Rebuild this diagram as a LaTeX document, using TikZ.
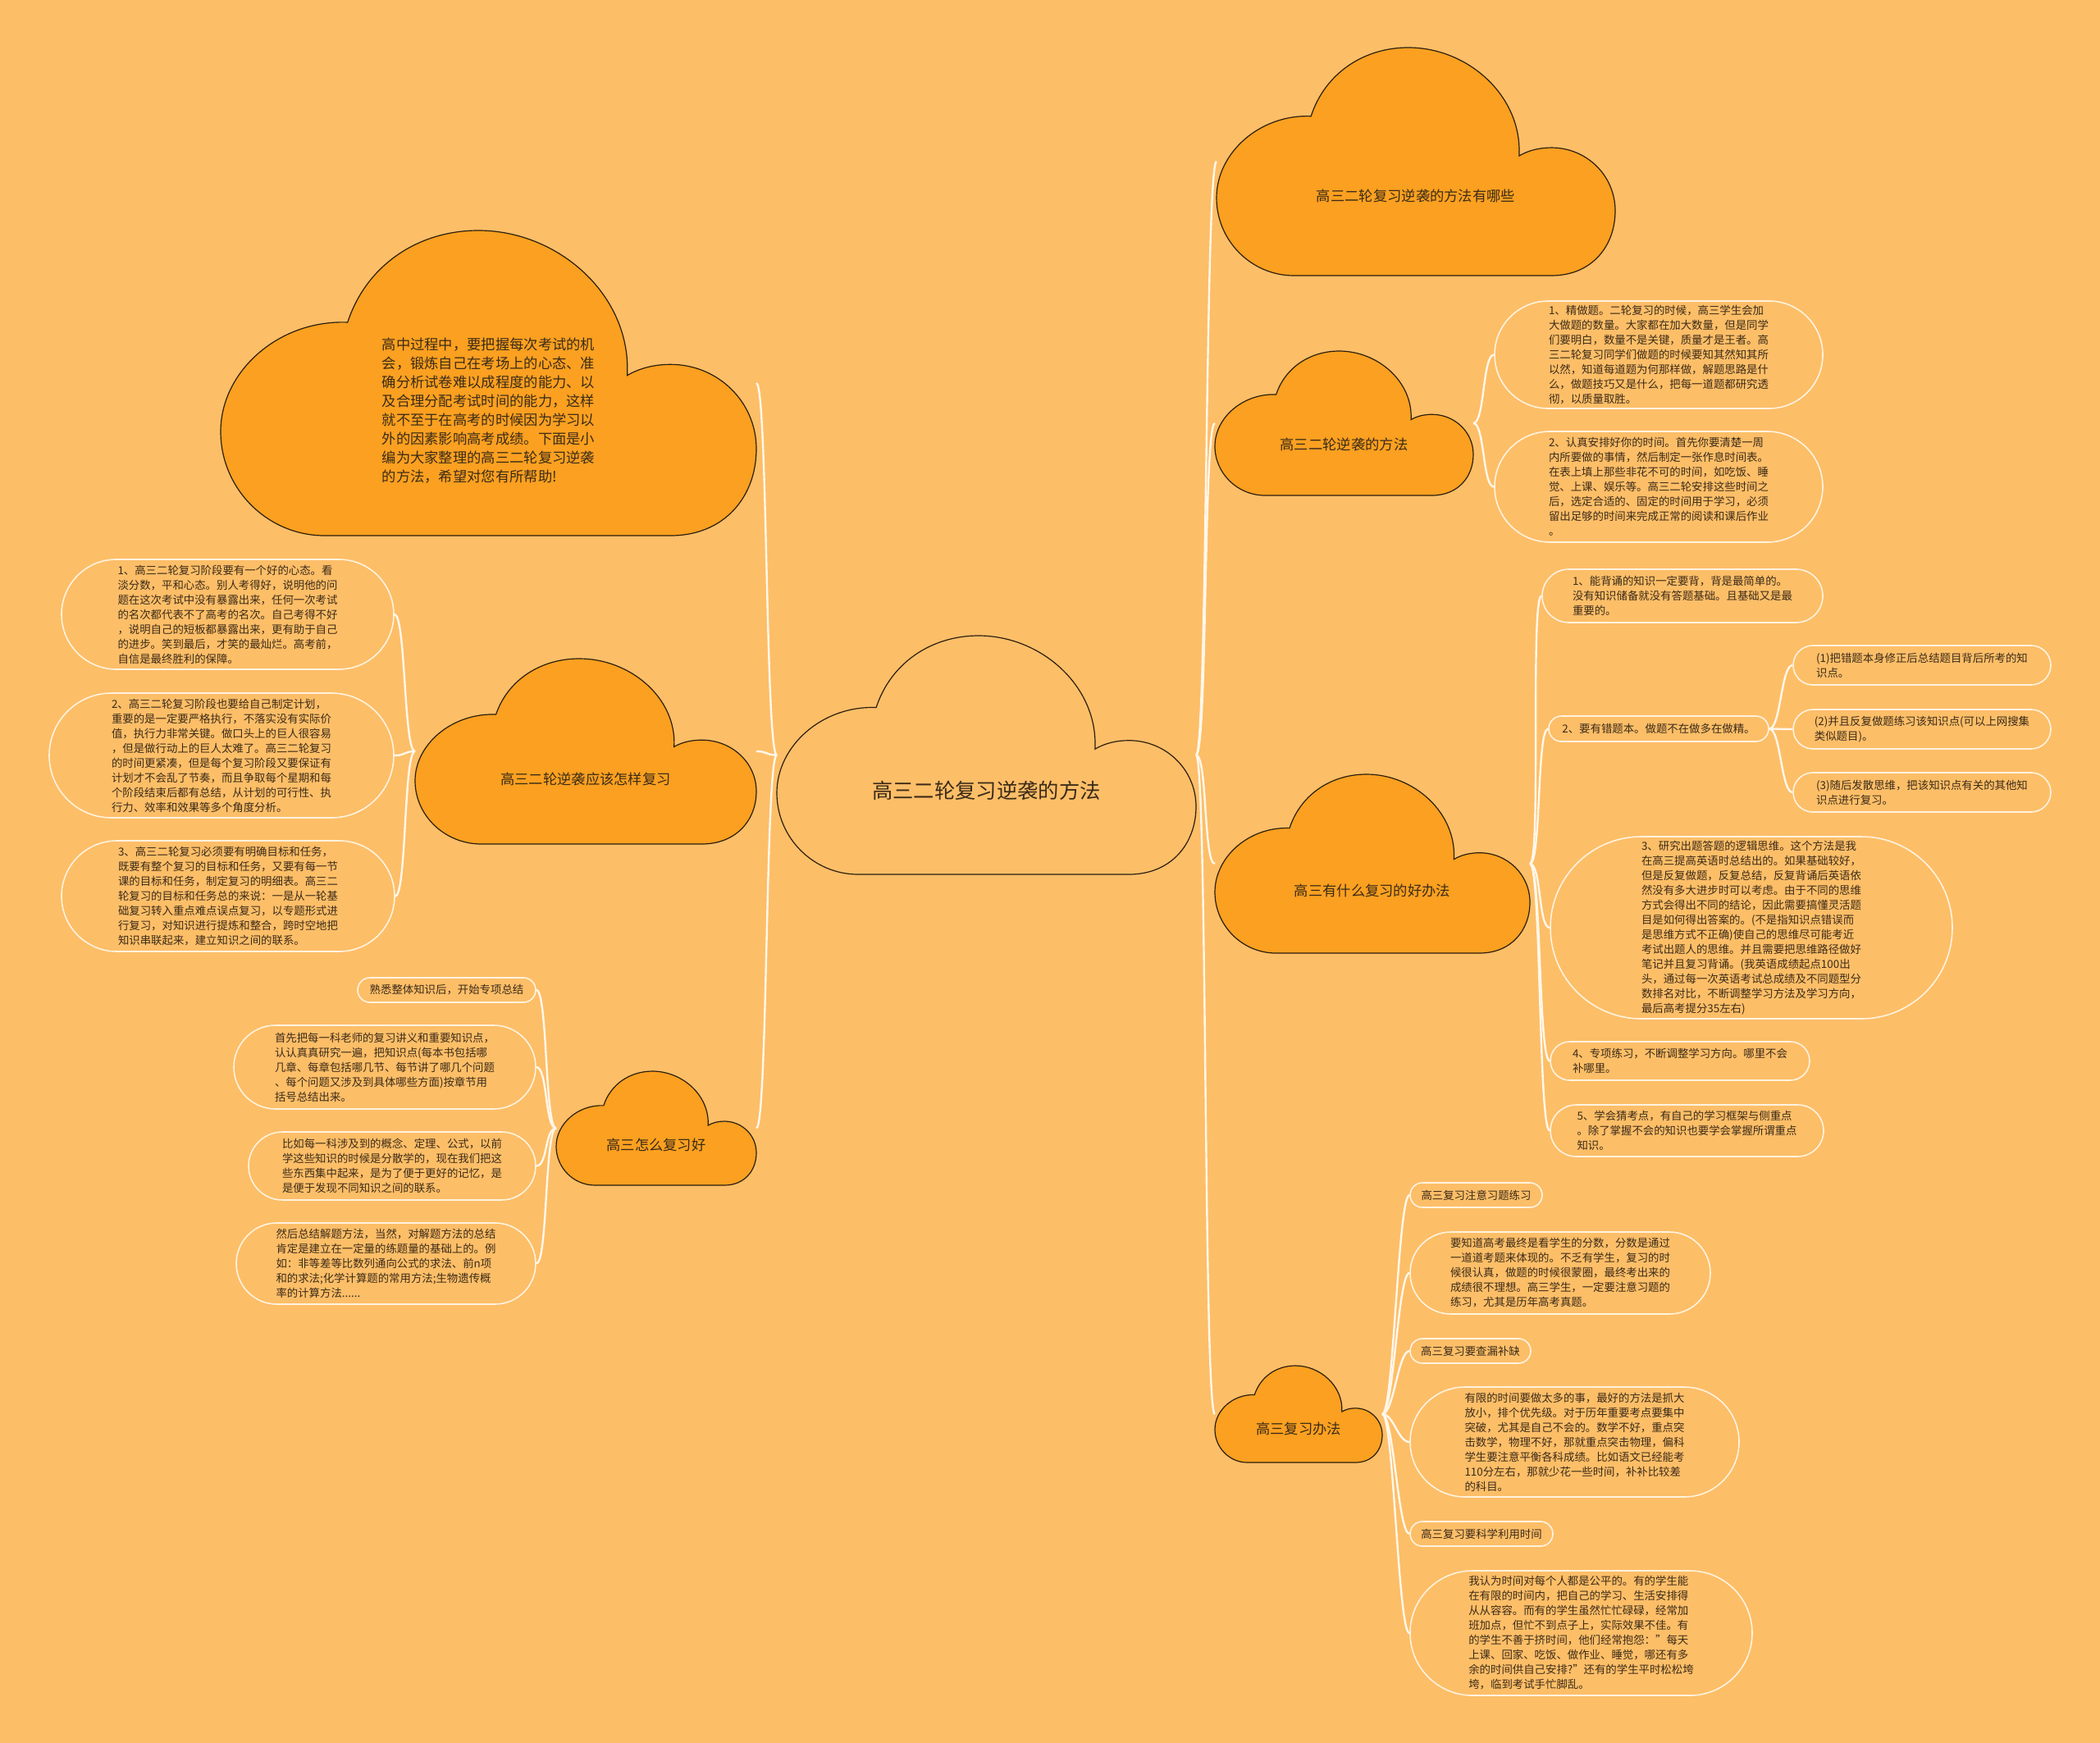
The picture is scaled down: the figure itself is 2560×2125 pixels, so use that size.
\documentclass[tikz,border=0pt]{standalone}
\usepackage{fontspec}
\setmainfont{Noto Sans CJK SC}
\usepackage{tikz}
\usetikzlibrary{shapes.misc}
\definecolor{bgorange}{HTML}{FDBE68}
\definecolor{cloudorange}{HTML}{FBA020}
\definecolor{cloudedge}{HTML}{2A1E0E}
\definecolor{ink}{HTML}{3B2B18}
\definecolor{leafline}{HTML}{FFF3DE}
\definecolor{branchline}{HTML}{FFF7EA}
\tikzset{
  pics/cloud/.style 2 args={code={
    \path[draw=cloudedge, line width=1.2pt, fill=#1]
      (0.194,-1) .. controls (0.087,-1) and (0,-0.846) .. (0,-0.659)
      .. controls (0,-0.461) and (0.109,-0.292) .. (0.237,-0.301)
      .. controls (0.272,-0.113) and (0.369,0) .. (0.481,0)
      .. controls (0.631,0) and (0.767,-0.213) .. (0.759,-0.475)
      .. controls (0.783,-0.450) and (0.811,-0.439) .. (0.840,-0.439)
      .. controls (0.928,-0.439) and (1,-0.561) .. (1,-0.716)
      .. controls (1,-0.871) and (0.941,-1) .. (0.840,-1)
      -- cycle;
    \coordinate (-w) at (0,-0.5);
    \coordinate (-e) at (1,-0.5);
    \node[cloudlbl] (-t) at (0.5,-0.65) {#2};
  }}
}
\begin{document}
\begin{tikzpicture}[
    x=1pt, y=1pt,
    cloudlbl/.style={font=\fontsize{17.3}{23}\selectfont, text=ink, align=center, inner sep=0pt},
    leaf/.style={draw=leafline, line width=1.6pt, rounded rectangle, align=left, text=ink,
                 font=\fontsize{13.4}{18}\selectfont, inner xsep=2pt, inner ysep=0pt},
    branch/.style={draw=branchline, line width=2.4pt},
    lbranch/.style={to path={.. controls +(-14,0) and +(14,0) .. (\tikztotarget)}},
    rbranch/.style={to path={.. controls +(14,0) and +(-14,0) .. (\tikztotarget)}}
  ]
  \useasboundingbox (0,0) rectangle (2560,-2125);
  \fill[bgorange] (0,0) rectangle (2560,-2125);

  \pic[xscale=511, yscale=291, cloudlbl/.append style={font=\fontsize{25.3}{30}\selectfont}] (c0) at (947,-775) {cloud={none}{高三二轮复习逆袭的方法}};

  \pic[xscale=653, yscale=372, cloudlbl/.append style={align=left, yshift=22pt}] (p1) at (269,-281) {cloud={cloudorange}{高中过程中，要把握每次考试的机\\会，锻炼自己在考场上的心态、准\\确分析试卷难以成程度的能力、以\\及合理分配考试时间的能力，这样\\就不至于在高考的时候因为学习以\\外的因素影响高考成绩。下面是小\\编为大家整理的高三二轮复习逆袭\\的方法，希望对您有所帮助!}};
  \pic[xscale=416, yscale=226] (p2) at (506,-803) {cloud={cloudorange}{高三二轮逆袭应该怎样复习}};
  \pic[xscale=244, yscale=139] (p3) at (678,-1306) {cloud={cloudorange}{高三怎么复习好}};

  \pic[xscale=486, yscale=278] (q1) at (1483,-58) {cloud={cloudorange}{高三二轮复习逆袭的方法有哪些}};
  \pic[xscale=315, yscale=176] (q2) at (1481,-428) {cloud={cloudorange}{高三二轮逆袭的方法}};
  \pic[xscale=384, yscale=218] (q3) at (1481,-944) {cloud={cloudorange}{高三有什么复习的好办法}};
  \pic[xscale=204, yscale=118] (q4) at (1481,-1665) {cloud={cloudorange}{高三复习办法}};

  \node[leaf, minimum width=409, minimum height=134] (l21) at (277.5,-749) {1、高三二轮复习阶段要有一个好的心态。看\\淡分数，平和心态。别人考得好，说明他的问\\题在这次考试中没有暴露出来，任何一次考试\\的名次都代表不了高考的名次。自己考得不好\\，说明自己的短板都暴露出来，更有助于自己\\的进步。笑到最后，才笑的最灿烂。高考前，\\自信是最终胜利的保障。};
  \node[leaf, minimum width=424, minimum height=152] (l22) at (270,-921) {2、高三二轮复习阶段也要给自己制定计划，\\重要的是一定要严格执行，不落实没有实际价\\值，执行力非常关键。做口头上的巨人很容易\\，但是做行动上的巨人太难了。高三二轮复习\\的时间更紧凑，但是每个复习阶段又要保证有\\计划才不会乱了节奏，而且争取每个星期和每\\个阶段结束后都有总结，从计划的可行性、执\\行力、效率和效果等多个角度分析。};
  \node[leaf, minimum width=410, minimum height=135] (l23) at (278,-1092.5) {3、高三二轮复习必须要有明确目标和任务，\\既要有整个复习的目标和任务，又要有每一节\\课的目标和任务，制定复习的明细表。高三二\\轮复习的目标和任务总的来说：一是从一轮基\\础复习转入重点难点误点复习，以专题形式进\\行复习，对知识进行提炼和整合，跨时空地把\\知识串联起来，建立知识之间的联系。};

  \node[leaf, minimum width=221, minimum height=30] (l31) at (544.5,-1207) {熟悉整体知识后，开始专项总结};
  \node[leaf, minimum width=372, minimum height=102] (l32) at (469,-1301) {首先把每一科老师的复习讲义和重要知识点，\\认认真真研究一遍，把知识点(每本书包括哪\\几章、每章包括哪几节、每节讲了哪几个问题\\、每个问题又涉及到具体哪些方面)按章节用\\括号总结出来。};
  \node[leaf, minimum width=354, minimum height=83] (l33) at (478,-1421.5) {比如每一科涉及到的概念、定理、公式，以前\\学这些知识的时候是分散学的，现在我们把这\\些东西集中起来，是为了便于更好的记忆，是\\是便于发现不同知识之间的联系。};
  \node[leaf, minimum width=369, minimum height=99] (l34) at (470.5,-1540.5) {然后总结解题方法，当然，对解题方法的总结\\肯定是建立在一定量的练题量的基础上的。例\\如：非等差等比数列通向公式的求法、前n项\\和的求法;化学计算题的常用方法;生物遗传概\\率的计算方法......};

  \node[leaf, minimum width=404, minimum height=131] (r21) at (2022,-432.5) {1、精做题。二轮复习的时候，高三学生会加\\大做题的数量。大家都在加大数量，但是同学\\们要明白，数量不是关键，质量才是王者。高\\三二轮复习同学们做题的时候要知其然知其所\\以然，知道每道题为何那样做，解题思路是什\\么，做题技巧又是什么，把每一道题都研究透\\彻，以质量取胜。};
  \node[leaf, minimum width=404, minimum height=135] (r22) at (2022,-593.5) {2、认真安排好你的时间。首先你要清楚一周\\内所要做的事情，然后制定一张作息时间表。\\在表上填上那些非花不可的时间，如吃饭、睡\\觉、上课、娱乐等。高三二轮安排这些时间之\\后，选定合适的、固定的时间用于学习，必须\\留出足够的时间来完成正常的阅读和课后作业\\。};

  \node[leaf, minimum width=346, minimum height=65] (r31) at (2051,-726.5) {1、能背诵的知识一定要背，背是最简单的。\\没有知识储备就没有答题基础。且基础又是最\\重要的。};
  \node[leaf, minimum width=272, minimum height=31] (r32) at (2022,-888.5) {2、要有错题本。做题不在做多在做精。};
  \node[leaf, minimum width=318, minimum height=48] (r321) at (2343,-811) {(1)把错题本身修正后总结题目背后所考的知\\识点。};
  \node[leaf, minimum width=318, minimum height=48] (r322) at (2343,-889) {(2)并且反复做题练习该知识点(可以上网搜集\\类似题目)。};
  \node[leaf, minimum width=318, minimum height=48] (r323) at (2343,-966) {(3)随后发散思维，把该知识点有关的其他知\\识点进行复习。};
  \node[leaf, minimum width=494, minimum height=222] (r33) at (2135,-1131) {3、研究出题答题的逻辑思维。这个方法是我\\在高三提高英语时总结出的。如果基础较好，\\但是反复做题，反复总结，反复背诵后英语依\\然没有多大进步时可以考虑。由于不同的思维\\方式会得出不同的结论，因此需要搞懂灵活题\\目是如何得出答案的。(不是指知识点错误而\\是思维方式不正确)使自己的思维尽可能考近\\考试出题人的思维。并且需要把思维路径做好\\笔记并且复习背诵。(我英语成绩起点100出\\头，通过每一次英语考试总成绩及不同题型分\\数排名对比，不断调整学习方法及学习方向，\\最后高考提分35左右)};
  \node[leaf, minimum width=320, minimum height=47] (r34) at (2048,-1293.5) {4、专项练习，不断调整学习方向。哪里不会\\补哪里。};
  \node[leaf, minimum width=337, minimum height=63] (r35) at (2056.5,-1378.5) {5、学会猜考点，有自己的学习框架与侧重点\\。除了掌握不会的知识也要学会掌握所谓重点\\知识。};

  \node[leaf, minimum width=165, minimum height=30] (r41) at (1799.5,-1457) {高三复习注意习题练习};
  \node[leaf, minimum width=370, minimum height=100] (r42) at (1902,-1552) {要知道高考最终是看学生的分数，分数是通过\\一道道考题来体现的。不乏有学生，复习的时\\候很认真，做题的时候很蒙圈，最终考出来的\\成绩很不理想。高三学生，一定要注意习题的\\练习，尤其是历年高考真题。};
  \node[leaf, minimum width=151, minimum height=30] (r43) at (1792.5,-1647) {高三复习要查漏补缺};
  \node[leaf, minimum width=405, minimum height=134] (r44) at (1919.5,-1758) {有限的时间要做太多的事，最好的方法是抓大\\放小，排个优先级。对于历年重要考点要集中\\突破，尤其是自己不会的。数学不好，重点突\\击数学，物理不好，那就重点突击物理，偏科\\学生要注意平衡各科成绩。比如语文已经能考\\110分左右，那就少花一些时间，补补比较差\\的科目。};
  \node[leaf, minimum width=178, minimum height=30] (r45) at (1806,-1870) {高三复习要科学利用时间};
  \node[leaf, minimum width=421, minimum height=152] (r46) at (1927.5,-1991) {我认为时间对每个人都是公平的。有的学生能\\在有限的时间内，把自己的学习、生活安排得\\从从容容。而有的学生虽然忙忙碌碌，经常加\\班加点，但忙不到点子上，实际效果不佳。有\\的学生不善于挤时间，他们经常抱怨：\char34 每天\\上课、回家、吃饭、做作业、睡觉，哪还有多\\余的时间供自己安排?\char34 还有的学生平时松松垮\\垮，临到考试手忙脚乱。};

  \draw[branch,lbranch] (c0-w) to (p1-e);
  \draw[branch,lbranch] (c0-w) to (p2-e);
  \draw[branch,lbranch] (c0-w) to (p3-e);
  \draw[branch,rbranch] (c0-e) to (q1-w);
  \draw[branch,rbranch] (c0-e) to (q2-w);
  \draw[branch,rbranch] (c0-e) to (q3-w);
  \draw[branch,rbranch] (c0-e) to (q4-w);

  \draw[branch,lbranch] (p2-w) to (l21.east);
  \draw[branch,lbranch] (p2-w) to (l22.east);
  \draw[branch,lbranch] (p2-w) to (l23.east);
  \draw[branch,lbranch] (p3-w) to (l31.east);
  \draw[branch,lbranch] (p3-w) to (l32.east);
  \draw[branch,lbranch] (p3-w) to (l33.east);
  \draw[branch,lbranch] (p3-w) to (l34.east);

  \draw[branch,rbranch] (q2-e) to (r21.west);
  \draw[branch,rbranch] (q2-e) to (r22.west);
  \draw[branch,rbranch] (q3-e) to (r31.west);
  \draw[branch,rbranch] (q3-e) to (r32.west);
  \draw[branch,rbranch] (q3-e) to (r33.west);
  \draw[branch,rbranch] (q3-e) to (r34.west);
  \draw[branch,rbranch] (q3-e) to (r35.west);
  \draw[branch,rbranch] (r32.east) to (r321.west);
  \draw[branch,rbranch] (r32.east) to (r322.west);
  \draw[branch,rbranch] (r32.east) to (r323.west);
  \draw[branch,rbranch] (q4-e) to (r41.west);
  \draw[branch,rbranch] (q4-e) to (r42.west);
  \draw[branch,rbranch] (q4-e) to (r43.west);
  \draw[branch,rbranch] (q4-e) to (r44.west);
  \draw[branch,rbranch] (q4-e) to (r45.west);
  \draw[branch,rbranch] (q4-e) to (r46.west);
\end{tikzpicture}
\end{document}
